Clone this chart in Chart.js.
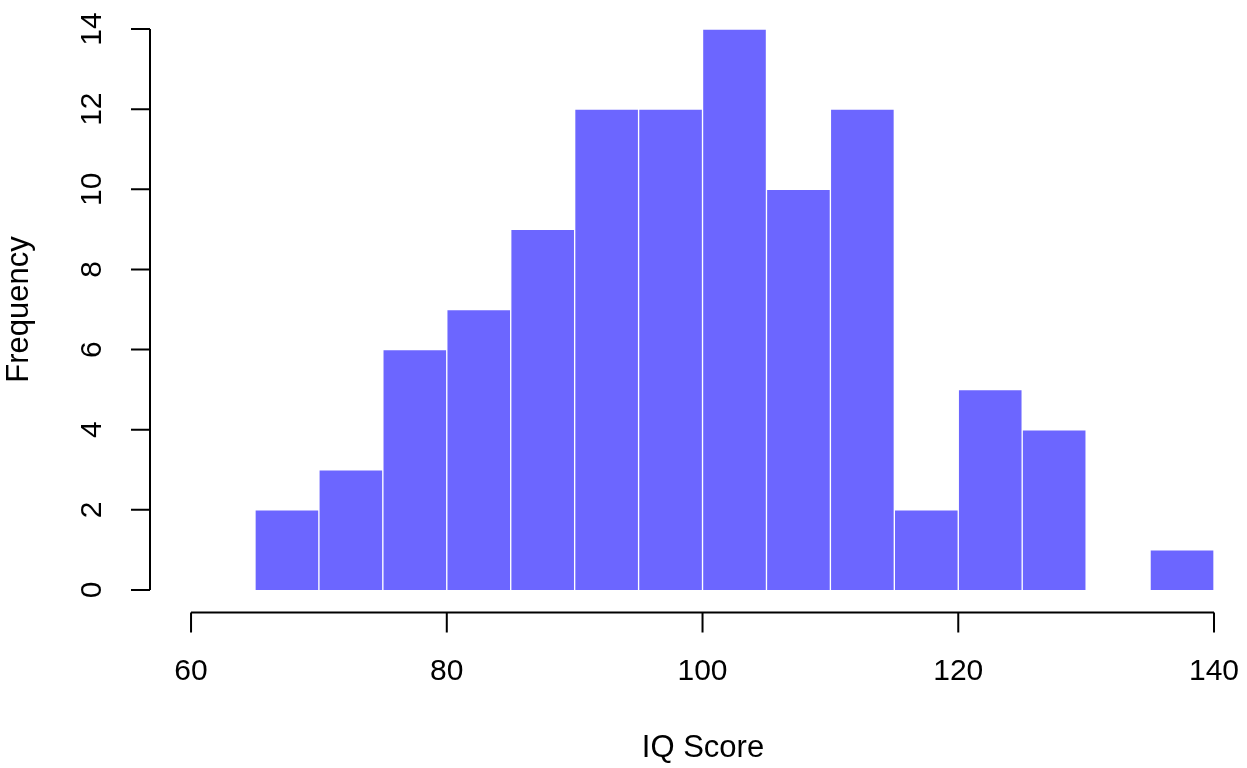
<!DOCTYPE html>
<html>
<head>
<meta charset="utf-8">
<script src="https://cdn.jsdelivr.net/npm/chart.js@4/dist/chart.umd.min.js"></script>
<style>
  html, body { margin: 0; padding: 0; background: #fff; }
  #wrap { width: 1247px; height: 768px; }
</style>
</head>
<body>
<div id="wrap"><canvas id="hist" width="1247" height="768"></canvas></div>
<script>
// histogram bins (left edge, width 5) and counts
const binStarts = [65, 70, 75, 80, 85, 90, 95, 100, 105, 110, 115, 120, 125, 130, 135];
const counts = [2, 3, 6, 7, 9, 12, 12, 14, 10, 12, 2, 5, 4, 0, 1];
const binWidth = 5;
const xTicks = [60, 80, 100, 120, 140];
const yTicks = [0, 2, 4, 6, 8, 10, 12, 14];
const xTitle = 'IQ Score';
const yTitle = 'Frequency';

const TICK_FONT = '30px "Liberation Sans", Arial, sans-serif';
const TITLE_FONT = '31px "Liberation Sans", Arial, sans-serif';

// R-style detached axes, drawn from the chart's own scales
const rAxes = {
    id: 'rAxes',
    afterDraw(chart) {
        const ctx = chart.ctx;
        const xs = chart.scales.x;
        const ys = chart.scales.y;
        const area = chart.chartArea;
        ctx.save();
        ctx.strokeStyle = '#000';
        ctx.fillStyle = '#000';
        ctx.lineWidth = 2;
        ctx.font = TICK_FONT;

        // x axis
        const ax = area.bottom;
        ctx.beginPath();
        ctx.moveTo(xs.getPixelForValue(xTicks[0]), ax);
        ctx.lineTo(xs.getPixelForValue(xTicks[xTicks.length - 1]), ax);
        xTicks.forEach(function (t) {
            const px = xs.getPixelForValue(t);
            ctx.moveTo(px, ax);
            ctx.lineTo(px, ax + 20);
        });
        ctx.stroke();
        ctx.textAlign = 'center';
        ctx.textBaseline = 'middle';
        xTicks.forEach(function (t) {
            ctx.fillText(String(t), xs.getPixelForValue(t), 672);
        });

        // y axis
        const ay = area.left;
        ctx.beginPath();
        ctx.moveTo(ay, ys.getPixelForValue(yTicks[0]));
        ctx.lineTo(ay, ys.getPixelForValue(yTicks[yTicks.length - 1]));
        yTicks.forEach(function (t) {
            const py = ys.getPixelForValue(t);
            ctx.moveTo(ay, py);
            ctx.lineTo(ay - 19, py);
        });
        ctx.stroke();
        yTicks.forEach(function (t) {
            ctx.save();
            ctx.translate(93, ys.getPixelForValue(t));
            ctx.rotate(-Math.PI / 2);
            ctx.fillText(String(t), 0, 0);
            ctx.restore();
        });

        // titles
        ctx.font = TITLE_FONT;
        ctx.fillText(xTitle, 703, 748);
        ctx.save();
        ctx.translate(19, (area.top + area.bottom) / 2);
        ctx.rotate(-Math.PI / 2);
        ctx.fillText(yTitle, 0, 0);
        ctx.restore();

        ctx.restore();
    }
};

const points = binStarts.map(function (b, i) {
    return { x: b + binWidth / 2, y: counts[i] };
});

new Chart(document.getElementById('hist'), {
    type: 'bar',
    data: {
        datasets: [{
            data: points,
            backgroundColor: '#6c66ff',
            borderColor: '#ffffff',
            borderWidth: 1,
            barPercentage: 1,
            categoryPercentage: 1
        }]
    },
    options: {
        responsive: false,
        animation: false,
        layout: { padding: { left: 150, right: 0, top: 6.56, bottom: 155.56 } },
        scales: {
            x: { type: 'linear', offset: false, min: 56.79, max: 142.58, display: false },
            y: { min: -0.56, max: 14.56, display: false }
        },
        plugins: {
            legend: { display: false },
            tooltip: { enabled: false }
        }
    },
    plugins: [rAxes]
});
</script>
</body>
</html>
